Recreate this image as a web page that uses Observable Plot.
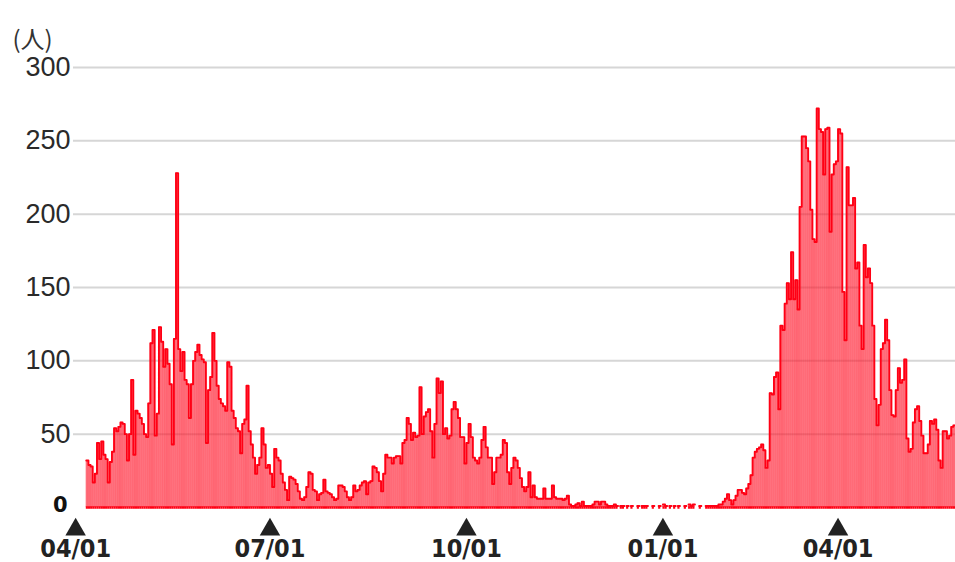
<!DOCTYPE html>
<html><head><meta charset="utf-8">
<script src="https://cdn.jsdelivr.net/npm/d3@7"></script>
<script src="https://cdn.jsdelivr.net/npm/@observablehq/plot@0.6"></script>
<style>
body{margin:0;background:#fff;}
#chart svg{display:block}
</style></head><body><div id="chart"></div>
<script>
const unitLabel = "(人)";
// day index 0 = 04/01 of the first year (position on the chart's day axis)
const firstDayIndex = 5;
const dailyCounts = [
  32,29,28,17,23,44,33,45,36,33, 17,31,38,54,52,55,58,57,50,32,
  50,87,36,66,64,61,57,50,48,71, 112,121,49,64,123,113,96,108,98,84,
  43,115,228,108,93,106,87,84,61,84, 100,106,111,104,101,99,44,80,89,119,
  100,83,74,71,69,66,99,96,66,61, 54,52,37,57,60,83,52,43,34,23,
  29,34,54,43,27,29,23,14,40,34, 32,23,17,
  12,5,21,20,19,16,11,6,5,7, 14,24,23,12,11,5,9,10,19,11,
  10,9,7,5,6,15,15,14,11,7, 5,7,15,11,12,15,17,18,9,17,
  18,28,27,24,18,11,23,36,34,34, 30,34,35,35,30,44,46,61,57,46,
  51,48,49,82,50,62,65,67,52,34, 57,88,78,86,50,54,47,49,67,72,
  67,61,48,48,30,44,57,48,34,32, 30,34,46,55,41,34,34,16,24,34,
  34,36,46,44,24,16,27,34,32,27, 20,14,11,14,24,
  7,15,7,6,6,6,13,6,6,6, 15,7,6,6,6,5,6,8,2,1,
  1,2,3,1,4,1,1,1,1,2, 4,4,2,4,4,2,1,1,1,2,
  1,0,1,1,0,1,0,1,0,0, 1,0,1,1,1,0,0,1,0,0,
  1,0,2,1,0,1,0,1,0,1, 0,0,1,0,2,1,2,0,0,1,
  0,0,1,1,1,1,1,1,2,2, 4,6,9,5,2,5,8,12,12,10,
  9,13,16,22,34,38,40,41,43,39, 27,32,
  78,77,89,92,67,124,121,139,153,142, 174,142,155,135,205,253,253,245,236,203,
  183,181,272,258,256,227,258,259,188,227, 234,236,258,255,147,114,232,206,206,211,
  163,167,124,108,179,157,163,153,124,74, 56,70,108,112,128,114,80,63,62,80,
  95,85,87,101,47,38,40,58,67,69, 59,49,37,37,43,59,57,60,53,32,
  27,52,52,47,49,55,56
];
const tickDayIndex = [0, 91, 183, 275, 357];
const tickLabels = ["04/01", "07/01", "10/01", "01/01", "04/01"];
const yGridValues = [50, 100, 150, 200, 250, 300];
const yZeroValue = [0];

const bars = dailyCounts.map((v, i) => ({day: firstDayIndex + i, count: v}));
const outline = bars.flatMap(d => [
  {x: d.day, y: d.count > 0 ? d.count : NaN},
  {x: d.day + 1, y: d.count > 0 ? d.count : NaN}
]);
const ticks = tickDayIndex.map((d, i) => ({day: d, label: tickLabels[i]}));

const chart = Plot.plot({
  width: 955, height: 562,
  marginLeft: 73, marginRight: 0, marginTop: 67, marginBottom: 55,
  x: {type: "linear", domain: [-1, 412], axis: null},
  y: {domain: [0, 300], axis: null},
  style: {background: "#fff", overflow: "visible"},
  marks: [
    Plot.gridY(yGridValues, {stroke: "#d6d6d6", strokeOpacity: 1, strokeWidth: 2}),
    Plot.rect(bars, {x1: "day", x2: d => d.day + 1, y1: 0, y2: "count", fill: "#ff1a2e", fillOpacity: 0.62, stroke: "#ff0014", strokeOpacity: 0.18, strokeWidth: 0.6}),
    Plot.line(outline, {x: "x", y: "y", stroke: "#ff0014", strokeWidth: 1.9}),
    Plot.ruleY(bars, {filter: d => d.count > 0, x1: "day", x2: d => d.day + 1, y: 0, stroke: "#ff0014", strokeWidth: 2.5}),
    Plot.axisY(yGridValues, {anchor: "left", tickSize: 0, tickPadding: 3, fontSize: 27, fontFamily: "Liberation Sans, Arial, sans-serif", color: "#2a2a2a"}),
    Plot.axisY(yZeroValue, {anchor: "left", tickSize: 0, tickPadding: 6, fontSize: 21, fontWeight: "bold", fontFamily: "DejaVu Sans, sans-serif", color: "#111", dy: -2}),
    Plot.dot(ticks, {x: "day", frameAnchor: "bottom", symbol: "triangle", r: 7.6, fill: "#222", stroke: "none", dy: 22}),
    Plot.text(ticks, {x: "day", text: "label", frameAnchor: "bottom", dy: 49, fontSize: 25, fontWeight: "bold", fontFamily: "Liberation Sans Narrow, DejaVu Sans Condensed, Arial Narrow, sans-serif", fill: "#222"}),
    Plot.text([unitLabel], {text: d => d, frameAnchor: "top-left", textAnchor: "start", dx: -61, dy: -37, fontSize: 24, fontFamily: "Noto Sans CJK JP, sans-serif", fill: "#333"})
  ]
});
document.getElementById("chart").appendChild(chart);
</script>
</body></html>
